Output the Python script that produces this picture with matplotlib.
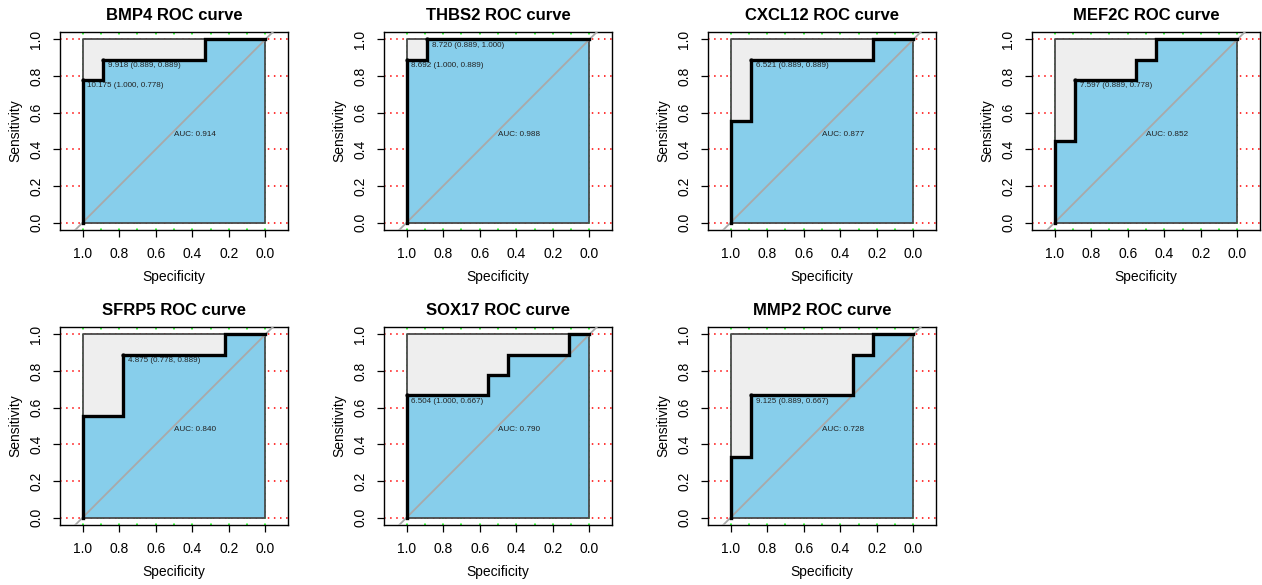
import numpy as np
import matplotlib
matplotlib.use("Agg")
import matplotlib.pyplot as plt

plt.rcParams['font.family'] = ['Liberation Sans', 'DejaVu Sans']

# ROC curves (specificity, sensitivity corners of each staircase)
genes = ['BMP4', 'THBS2', 'CXCL12', 'MEF2C', 'SFRP5', 'SOX17', 'MMP2']

spec = {
    'BMP4':   [1.0, 1.0, 0.889, 0.889, 0.333, 0.333, 0.0],
    'THBS2':  [1.0, 1.0, 0.889, 0.889, 0.0],
    'CXCL12': [1.0, 1.0, 0.889, 0.889, 0.222, 0.222, 0.0],
    'MEF2C':  [1.0, 1.0, 0.889, 0.889, 0.556, 0.556, 0.444, 0.444, 0.0],
    'SFRP5':  [1.0, 1.0, 0.778, 0.778, 0.222, 0.222, 0.0],
    'SOX17':  [1.0, 1.0, 0.556, 0.556, 0.444, 0.444, 0.111, 0.111, 0.0],
    'MMP2':   [1.0, 1.0, 0.889, 0.889, 0.333, 0.333, 0.222, 0.222, 0.0],
}
sens = {
    'BMP4':   [0.0, 0.778, 0.778, 0.889, 0.889, 1.0, 1.0],
    'THBS2':  [0.0, 0.889, 0.889, 1.0, 1.0],
    'CXCL12': [0.0, 0.556, 0.556, 0.889, 0.889, 1.0, 1.0],
    'MEF2C':  [0.0, 0.444, 0.444, 0.778, 0.778, 0.889, 0.889, 1.0, 1.0],
    'SFRP5':  [0.0, 0.556, 0.556, 0.889, 0.889, 1.0, 1.0],
    'SOX17':  [0.0, 0.667, 0.667, 0.778, 0.778, 0.889, 0.889, 1.0, 1.0],
    'MMP2':   [0.0, 0.333, 0.333, 0.667, 0.667, 0.889, 0.889, 1.0, 1.0],
}
auc = {'BMP4': 0.914, 'THBS2': 0.988, 'CXCL12': 0.877, 'MEF2C': 0.852,
       'SFRP5': 0.840, 'SOX17': 0.790, 'MMP2': 0.728}

# best thresholds: (threshold, specificity, sensitivity)
best = {
    'BMP4':   [(10.175, 1.000, 0.778), (9.918, 0.889, 0.889)],
    'THBS2':  [(8.720, 0.889, 1.000), (8.692, 1.000, 0.889)],
    'CXCL12': [(6.521, 0.889, 0.889)],
    'MEF2C':  [(7.597, 0.889, 0.778)],
    'SFRP5':  [(4.875, 0.778, 0.889)],
    'SOX17':  [(6.504, 1.000, 0.667)],
    'MMP2':   [(9.125, 0.889, 0.667)],
}

ticks = [1.0, 0.8, 0.6, 0.4, 0.2, 0.0]
tick_labels = ['1.0', '0.8', '0.6', '0.4', '0.2', '0.0']

W, H = 1262, 585
fig = plt.figure(figsize=(W / 100, H / 100), dpi=100)

for i, g in enumerate(genes):
    row, col = divmod(i, 4)
    left = 60 + 324 * col
    top = 32 + 295 * row
    ax = fig.add_axes([left / W, 1 - (top + 198) / H, 228 / W, 198 / H])
    ax.set_xlim(1.123, -0.123)
    ax.set_ylim(-0.04, 1.04)

    # dotted grid
    for yv in np.arange(0, 1.01, 0.2):
        ax.axhline(yv, color='#FF0000', lw=1.1, ls=(0, (1, 3)), zorder=1)
    for xv in np.arange(0, 1.01, 0.1):
        ax.axvline(xv, color='#00FF00', lw=1.1, ls=(0, (1, 3)), zorder=1)

    sp = spec[g]
    se = sens[g]
    # max auc polygon and auc polygon
    ax.fill([1, 1, 0, 0], [0, 1, 1, 0], color='#EEEEEE', lw=0, zorder=2)
    ax.fill(sp + [0.0, 1.0], se + [0.0, 0.0], color='skyblue', lw=0, zorder=3)
    ax.plot([1, 1, 0, 0, 1], [0, 1, 1, 0, 0], color='#4a4a4a', lw=1.3, zorder=4)
    ax.plot([1.3, -0.3], [-0.3, 1.3], color='darkgrey', lw=1.3, zorder=5)
    ax.plot(sp, se, color='black', lw=2.4, zorder=6, solid_joinstyle='miter')

    for thr, s1, s2 in best[g]:
        ax.plot(s1, s2, 'o', color='black', ms=2, zorder=7)
        ax.annotate(f"{thr:.3f} ({s1:.3f}, {s2:.3f})", (s1, s2), xytext=(3.5, -4.2),
                    textcoords='offset points', ha='left', va='center',
                    fontsize=5.8, color='#222222', zorder=8)

    ax.text(0.5, 0.5, f"AUC: {auc[g]:.3f}", ha='left', va='top',
            fontsize=5.9, color='#222222', zorder=8)

    ax.set_xticks(ticks)
    ax.set_xticklabels(tick_labels)
    ax.set_yticks(ticks[::-1])
    ax.set_yticklabels(tick_labels[::-1], rotation=90, va='center')
    ax.tick_params(length=5, width=0.9, pad=7, labelsize=10, direction='out')
    for s in ax.spines.values():
        s.set_linewidth(1.0)

    ax.set_xlabel('Specificity', fontsize=10, va='center')
    ax.xaxis.set_label_coords(0.5, -47 / 198)
    ax.set_ylabel('Sensitivity', fontsize=10, va='center')
    ax.yaxis.set_label_coords(-45 / 228, 0.5)
    ax.set_title(f"{g} ROC curve", fontsize=12, fontweight='bold',
                 y=1 + 16 / 198, va='center', pad=0)

fig.savefig('out.png', dpi=100)
